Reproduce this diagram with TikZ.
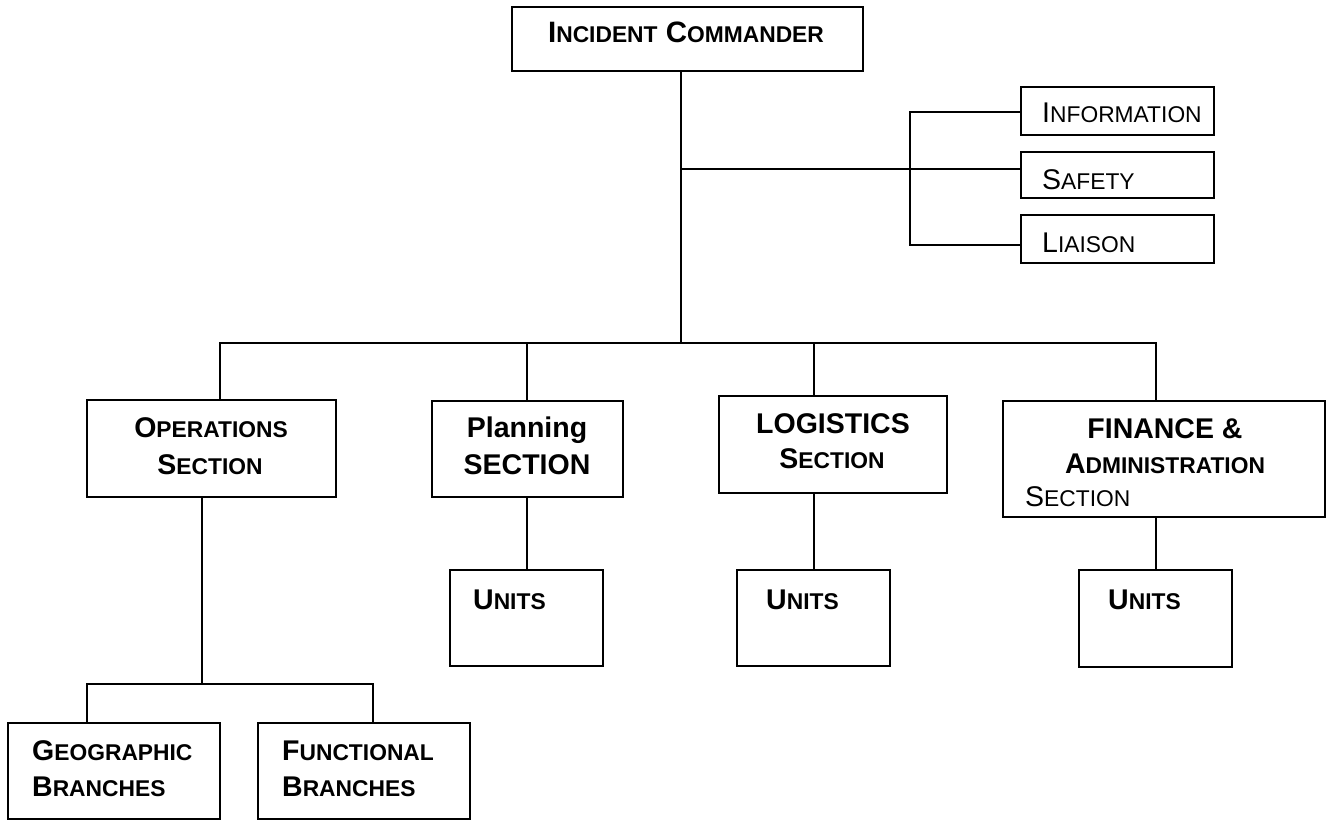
\documentclass[tikz,border=0pt]{standalone}
\usepackage{fontspec}
\setmainfont{Liberation Sans}
\newcommand{\smc}[2]{#1{\fontsize{22.8pt}{24pt}\selectfont #2}}
\begin{document}
\begin{tikzpicture}[x=1pt,y=-1pt,
  box/.style={draw, line width=1.5pt, inner sep=0pt, minimum width=#1},
  conn/.style={line width=1.5pt},
  lbl/.style={inner sep=0pt, font=\fontsize{28.5pt}{34pt}\selectfont\bfseries},
  lblr/.style={inner sep=0pt, font=\fontsize{28.5pt}{34pt}\selectfont}]
\useasboundingbox (0,0) rectangle (1328,821);
% boxes
\node[box=351pt, minimum height=64pt] (ic) at (687.5,39) {};
\node[box=193pt, minimum height=48pt] (inf) at (1117.5,111) {};
\node[box=193pt, minimum height=46pt] (saf) at (1117.5,175) {};
\node[box=193pt, minimum height=48pt] (lia) at (1117.5,239) {};
\node[box=249pt, minimum height=97pt] (ops) at (211.5,448.5) {};
\node[box=191pt, minimum height=96pt] (pla) at (527.5,449) {};
\node[box=228pt, minimum height=97pt] (log) at (833,444.5) {};
\node[box=322pt, minimum height=116pt] (fin) at (1164,459) {};
\node[box=153pt, minimum height=96pt] (plu) at (526.5,618) {};
\node[box=153pt, minimum height=96pt] (lou) at (813.5,618) {};
\node[box=153pt, minimum height=97pt] (fiu) at (1155.5,618.5) {};
\node[box=212pt, minimum height=96pt] (geo) at (114,771) {};
\node[box=212pt, minimum height=96pt] (fun) at (364,771) {};
% texts
\node[lbl, anchor=base, font=\fontsize{29.5pt}{34pt}\selectfont\bfseries] (tic) at (686,43) {\smc{I}{NCIDENT} \smc{C}{OMMANDER}};
\node[lblr, anchor=base west] (tinf) at (1042,123) {\smc{I}{NFORMATION}};
\node[lblr, anchor=base west] (tsaf) at (1042,190) {\smc{S}{AFETY}};
\node[lblr, anchor=base west] (tlia) at (1042,253) {\smc{L}{IAISON}};
\node[lbl, anchor=base] (tops1) at (211,437) {\smc{O}{PERATIONS}};
\node[lbl, anchor=base] (tops2) at (210,474) {\smc{S}{ECTION}};
\node[lbl, anchor=base] (tpla1) at (527,437) {Planning};
\node[lbl, anchor=base] (tpla2) at (527,474) {SECTION};
\node[lbl, anchor=base] (tlog1) at (833,433) {LOGISTICS};
\node[lbl, anchor=base] (tlog2) at (832,468) {\smc{S}{ECTION}};
\node[lbl, anchor=base] (tfin1) at (1165,438) {FINANCE \&};
\node[lbl, anchor=base] (tfin2) at (1165,473) {\smc{A}{DMINISTRATION}};
\node[lblr, anchor=base west] (tfin3) at (1025,506) {\smc{S}{ECTION}};
\node[lbl, anchor=base west] (tplu) at (473,609) {\smc{U}{NITS}};
\node[lbl, anchor=base west] (tlou) at (766,609) {\smc{U}{NITS}};
\node[lbl, anchor=base west] (tfiu) at (1108,609) {\smc{U}{NITS}};
\node[lbl, anchor=base west] (tgeo1) at (32,760) {\smc{G}{EOGRAPHIC}};
\node[lbl, anchor=base west] (tgeo2) at (32,796) {\smc{B}{RANCHES}};
\node[lbl, anchor=base west] (tfun1) at (282,760) {\smc{F}{UNCTIONAL}};
\node[lbl, anchor=base west] (tfun2) at (282,796) {\smc{B}{RANCHES}};
% junction coordinates
\coordinate (hub) at (681,343);
\coordinate (sj) at (681,169);
\coordinate (opsx) at (220,343);
\coordinate (finx) at (1156,343);
\coordinate (logx) at (814,343);
\coordinate (plax) at (527,343);
\coordinate (bt) at (910,112);
\coordinate (bb) at (910,245);
\coordinate (obar) at (202,684);
\coordinate (gx) at (87,684);
\coordinate (fx) at (373,684);
% connectors
\draw[conn] (ic.south -| hub) -- (hub);
\draw[conn] (sj) -- (saf.west |- sj);
\draw[conn] (inf.west |- bt) -- (bt) -- (bb) -- (lia.west |- bb);
\draw[conn] (ops.north -| opsx) -- (opsx) -- (finx) -- (fin.north -| finx);
\draw[conn] (pla.north -| plax) -- (plax);
\draw[conn] (log.north -| logx) -- (logx);
\draw[conn] (pla.south -| plax) -- (plu.north -| plax);
\draw[conn] (lou.north -| logx) -- (log.south -| logx);
\draw[conn] (fiu.north -| finx) -- (fin.south -| finx);
\draw[conn] (ops.south -| obar) -- (obar);
\draw[conn] (geo.north -| gx) -- (gx) -- (fx) -- (fun.north -| fx);
\end{tikzpicture}
\end{document}
